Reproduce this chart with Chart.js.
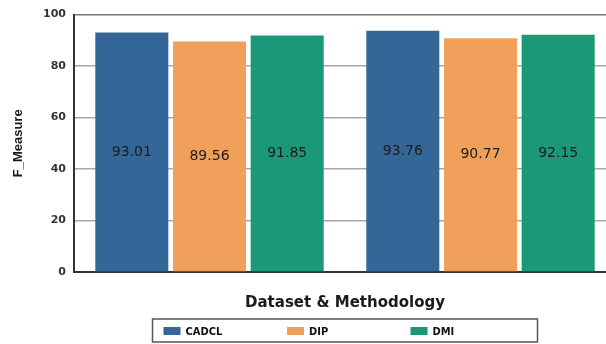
<!DOCTYPE html>
<html>
<head>
<meta charset="utf-8">
<script src="https://cdn.jsdelivr.net/npm/chart.js@4.4.1/dist/chart.umd.min.js"></script>
<style>
  html, body { margin: 0; padding: 0; background: #ffffff; overflow: hidden; }
  #wrap { position: relative; width: 640px; height: 344px; }
</style>
</head>
<body>
<div id="wrap"><canvas id="chart"></canvas></div>
<script>
// F_Measure per dataset for each method
const categories = ['Dataset 1', 'Dataset 2'];
const methodNames = ['CADCL', 'DIP', 'DMI'];
const cadclValues = [93.01, 93.76];
const dipValues = [89.56, 90.77];
const dmiValues = [91.85, 92.15];
const yTickValues = [0, 20, 40, 60, 80, 100];
const methodColors = ['#346797', '#f0a05a', '#1b9877'];

const seriesValues = [cadclValues, dipValues, dmiValues];

// value printed in the middle of each bar
const barValueLabels = {
  id: 'barValueLabels',
  afterDatasetsDraw(chart) {
    const ctx = chart.ctx;
    ctx.save();
    ctx.font = '14px "DejaVu Sans", sans-serif';
    ctx.fillStyle = '#1c1c1c';
    ctx.textAlign = 'center';
    ctx.textBaseline = 'middle';
    chart.data.datasets.forEach((ds, di) => {
      const meta = chart.getDatasetMeta(di);
      meta.data.forEach((bar, i) => {
        const y = (bar.y + bar.base) / 2;
        ctx.fillText(ds.data[i].toFixed(2), bar.x, y);
      });
    });
    ctx.restore();
  }
};

// boxed legend under the axis title
const boxedLegend = {
  id: 'boxedLegend',
  afterDraw(chart) {
    const ctx = chart.ctx;
    const area = chart.chartArea;
    const cx = (area.left + area.right) / 2;
    const boxW = 385, boxH = 23, boxTop = 319;
    const boxLeft = cx - boxW / 2;
    ctx.save();
    ctx.strokeStyle = '#555555';
    ctx.lineWidth = 1.5;
    ctx.strokeRect(boxLeft, boxTop, boxW, boxH);
    ctx.font = 'bold 11px "Liberation Sans Narrow", "DejaVu Sans Condensed", sans-serif';
    ctx.textBaseline = 'middle';
    ctx.textAlign = 'left';
    chart.data.datasets.forEach((ds, i) => {
      const sx = boxLeft + 11 + i * 123.5;
      ctx.fillStyle = ds.backgroundColor;
      ctx.fillRect(sx, boxTop + 8, 17, 8);
      ctx.fillStyle = '#111111';
      ctx.fillText(ds.label, sx + 22, boxTop + 13);
    });
    ctx.restore();
  }
};

new Chart(document.getElementById('chart'), {
  type: 'bar',
  data: {
    labels: categories,
    datasets: methodNames.map((name, i) => ({
      label: name,
      data: seriesValues[i],
      backgroundColor: methodColors[i],
      borderWidth: 0,
      categoryPercentage: 0.86,
      barPercentage: 0.94
    }))
  },
  options: {
    responsive: true,
    maintainAspectRatio: false,
    animation: false,
    layout: { padding: { top: 14, right: 24, bottom: 32, left: 0 } },
    plugins: {
      legend: { display: false },
      tooltip: { enabled: false }
    },
    scales: {
      x: {
        grid: { display: false, drawTicks: false },
        border: { display: true, color: '#333333', width: 2 },
        ticks: { display: false },
        title: {
          display: true,
          text: 'Dataset & Methodology',
          color: '#1a1a1a',
          font: { family: '"DejaVu Sans", sans-serif', size: 15, weight: 'bold' },
          padding: { top: 20, bottom: 0 }
        },
        afterFit(scale) { scale.height = 40; }
      },
      y: {
        min: 0,
        max: 100,
        afterBuildTicks(scale) { scale.ticks = yTickValues.map(v => ({ value: v })); },
        grid: {
          drawTicks: false,
          color: ctx => (ctx.tick && ctx.tick.value === 100) ? '#777777' : '#a8a8a8',
          lineWidth: 1.5
        },
        border: { display: true, color: '#333333', width: 2 },
        ticks: {
          padding: 8,
          color: '#333333',
          font: { family: '"DejaVu Sans", sans-serif', size: 11, weight: 'bold' }
        },
        title: {
          display: true,
          text: 'F_Measure',
          color: '#1a1a1a',
          font: { family: '"Liberation Sans", Arial, sans-serif', size: 13, weight: 'bold' },
          padding: { top: 11, bottom: 0 }
        },
        afterFit(scale) { scale.width = 74; }
      }
    }
  },
  plugins: [barValueLabels, boxedLegend]
});
</script>
</body>
</html>
